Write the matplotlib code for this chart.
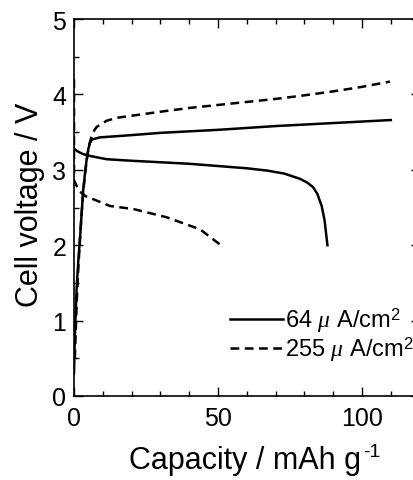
import matplotlib
matplotlib.use("Agg")
import matplotlib.pyplot as plt
from matplotlib.ticker import MultipleLocator

plt.rcParams["font.family"] = ["Liberation Sans", "DejaVu Sans"]
plt.rcParams["mathtext.fontset"] = "custom"
plt.rcParams["mathtext.rm"] = "Liberation Sans"
plt.rcParams["mathtext.it"] = "Liberation Serif:italic"

# 64 uA/cm2 (solid): discharge then charge
cap_64_dis = [0, 1, 3, 6, 11.4, 20, 30, 40, 50, 60, 67, 73, 78.5, 81, 83, 84.5, 86, 87, 87.7, 88]
v_64_dis = [3.28, 3.25, 3.21, 3.18, 3.14, 3.12, 3.10, 3.08, 3.05, 3.02, 2.99, 2.95, 2.88, 2.83, 2.77, 2.68, 2.52, 2.33, 2.1, 2.0]
cap_64_chg = [0, 0.3, 0.9, 1.5, 2.1, 2.7, 3.2, 3.8, 4.4, 5.0, 5.6, 6.2, 7, 9, 20, 30, 50, 70, 90, 110]
v_64_chg = [0.3, 0.8, 1.42, 1.8, 2.1, 2.45, 2.73, 2.95, 3.14, 3.28, 3.36, 3.40, 3.41, 3.43, 3.46, 3.49, 3.53, 3.58, 3.62, 3.66]

# 255 uA/cm2 (dashed): discharge then charge
cap_255_dis = [0, 0, 1, 2.1, 4, 6.7, 12.5, 20.6, 32.2, 43.8, 51]
v_255_dis = [4.2, 2.86, 2.78, 2.71, 2.65, 2.61, 2.52, 2.48, 2.37, 2.21, 2.0]
cap_255_chg = [0.3, 0.9, 1.5, 2.1, 2.7, 3.3, 4.0, 4.7, 5.4, 6.2, 7.0, 7.9, 11.3, 15, 20.6, 30, 40, 50,
               60, 70, 78.5, 90, 100, 109.7]
v_255_chg = [0.5, 1.2, 1.7, 2.1, 2.45, 2.75, 3.0, 3.2, 3.35, 3.45, 3.52, 3.57, 3.65, 3.69, 3.72, 3.77,
             3.82, 3.86, 3.9, 3.94, 3.98, 4.04, 4.1, 4.17]

fig = plt.figure(figsize=(4.14, 4.81), dpi=100)
ax = fig.add_axes([74 / 414, 84 / 481, 345.6 / 414, 377 / 481])

lw = 1.8
dash = (0, (3.5, 2.2))
ax.plot(cap_64_dis, v_64_dis, color="black", lw=lw)
ax.plot(cap_64_chg, v_64_chg, color="black", lw=lw, label="64 $\\mu$ A/cm$^2$")
ax.plot(cap_255_dis, v_255_dis, color="black", lw=lw, linestyle=dash)
ax.plot(cap_255_chg, v_255_chg, color="black", lw=lw, linestyle=dash,
        label="255 $\\mu$ A/cm$^2$")

ax.set_xlim(0, 120)
ax.set_ylim(0, 5)
ax.xaxis.set_major_locator(MultipleLocator(50))
ax.xaxis.set_minor_locator(MultipleLocator(10))
ax.yaxis.set_major_locator(MultipleLocator(1))
ax.yaxis.set_minor_locator(MultipleLocator(0.5))
ax.tick_params(which="both", direction="in", top=True, right=True, labelsize=18, width=1)
ax.tick_params(which="major", length=6.5)
ax.tick_params(which="minor", length=3.5)
ax.tick_params(axis="x", pad=7)
ax.tick_params(axis="y", pad=5.5)
for s in ax.spines.values():
    s.set_linewidth(1.2)

ax.set_xlabel("Capacity / mAh g", fontsize=22)
ax.xaxis.set_label_coords(0.495, -0.13)
ax.text(0.836, -0.158, "-1", transform=ax.transAxes, fontsize=14, ha="left", va="baseline")
ax.set_ylabel("Cell voltage / V", fontsize=22)
ax.yaxis.set_label_coords(-0.085, 0.509)

ax.legend(loc="center left", bbox_to_anchor=(0.451, 0.164), frameon=False, fontsize=17,
          handlelength=2.25, handletextpad=0.08, labelspacing=0.0, borderpad=0,
          borderaxespad=0)

fig.savefig("out.png", dpi=100)
